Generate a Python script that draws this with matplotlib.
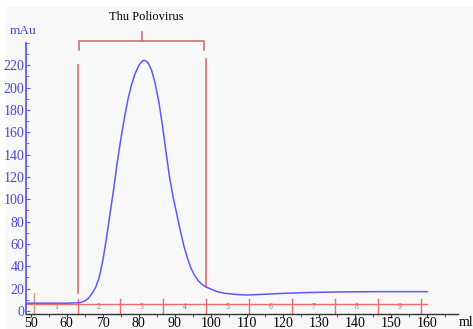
import numpy as np
import matplotlib
matplotlib.use("Agg")
import matplotlib.pyplot as plt
from matplotlib.patches import Rectangle
from matplotlib.ticker import MultipleLocator

plt.rcParams['font.family'] = ['Liberation Serif', 'DejaVu Serif']

# elution profile
volume_ml = [48.7, 55, 60, 63.7, 65, 66, 67, 68, 69, 70, 71, 72, 73, 74, 75, 76, 77, 78,
             79, 80, 81, 81.6, 82.5, 83.5, 84.5, 85.5, 86.5, 87.5, 88.5, 89.5, 90.5,
             91.5, 92.5, 93.5, 94.5, 95.5, 96.5, 97.5, 98.5, 100, 102, 104, 107, 110,
             115, 120, 127, 134, 145, 160]
absorbance = [7, 7, 7, 7.5, 9, 11.4, 15.5, 21, 30, 45, 65, 87, 109, 133, 154, 173, 190,
              203, 213, 220, 224, 224.5, 222.5, 216, 204, 188, 167, 143, 120, 102, 87,
              72, 58, 47, 38, 31.5, 27, 23.8, 21.7, 19.5, 17, 15.8, 14.8, 14.3,
              15, 15.8, 16.5, 17, 17.3, 17.3]

# fraction collector marks
fraction_edges = [51.0, 63.05, 74.8, 86.7, 98.6, 110.6, 122.5, 134.5, 146.4, 158.3]
fraction_labels = ['1', '2', '3', '4', '5', '6', '7', '8', '9']

pool_start, pool_end = 63.05, 98.6
pool_label = 'Thu Poliovirus'

blue = '#5a5aff'
red = '#f06a6a'
bracket_red = '#cc7272'

fig = plt.figure(figsize=(4.73, 3.29), dpi=100)
fig.patches.append(Rectangle((6 / 473, 0), 1, 1 - 7 / 329, transform=fig.transFigure,
                             facecolor='#f8f8f8', edgecolor='none', zorder=-10))
ax = fig.add_axes([26 / 473, 1 - 314 / 329, 432 / 473, 271 / 329])
ax.set_facecolor('none')
ax.set_xlim(48.7, 168.5)
ax.set_ylim(-2.7, 240)

ax.plot(volume_ml, absorbance, color=blue, lw=1.1, zorder=3)

# fraction baseline, ticks and numbers
ax.plot([48.7, 160], [6, 6], color=red, lw=1.0, zorder=2)
for i, x in enumerate(fraction_edges):
    if i == 0:
        ax.plot([x, x], [-2.7, 16], color='#c8a070', lw=1.0, clip_on=False)
    else:
        ax.plot([x, x], [-2.7, 10.7], color=red, lw=1.0, clip_on=False)
for i, lab in enumerate(fraction_labels):
    xm = (fraction_edges[i] + fraction_edges[i + 1]) / 2
    ax.text(xm, 3.3, lab, color='#e84848', fontsize=5.5, ha='center', va='center')

# pooled peak markers
ax.plot([pool_start, pool_start], [16.4, 220], color=red, lw=1.2)
ax.plot([pool_end, pool_end], [21.7, 225.4], color=red, lw=1.2)

# bracket above the pool
bx0, bx1 = pool_start + 0.3, pool_end - 0.5
bmid = 80.8
ax.plot([bx0, bx0, bx1, bx1], [233.5, 241.8, 241.8, 233.5], color=bracket_red, lw=1.2,
        clip_on=False, solid_joinstyle='round')
ax.plot([bmid, bmid], [241.8, 249.6], color=bracket_red, lw=1.2, clip_on=False)
ax.text(82.2, 263, pool_label, ha='center', va='center', fontsize=9, clip_on=False)

for s in ['top', 'right']:
    ax.spines[s].set_visible(False)
ax.spines['left'].set_color(blue)
ax.spines['left'].set_linewidth(1.3)
ax.spines['bottom'].set_color('#333333')
ax.spines['bottom'].set_linewidth(1.0)

ax.set_yticks(np.arange(0, 221, 20))
ax.yaxis.set_minor_locator(MultipleLocator(10))
ax.tick_params(axis='y', which='major', colors=blue, labelcolor='#4848d8', labelsize=10,
               direction='in', length=3, pad=1)
ax.tick_params(axis='y', which='minor', colors=blue, direction='in', length=2)
ax.set_xticks(np.arange(50, 161, 10))
ax.xaxis.set_minor_locator(MultipleLocator(5))
ax.tick_params(axis='x', which='major', colors='#333333', labelcolor='black', labelsize=10,
               direction='out', length=2, pad=0)
ax.tick_params(axis='x', which='minor', colors='#333333', direction='out', length=2)

fig.text(23 / 473, 1 - 31 / 329, 'mAu', color='#4848d8', fontsize=9.5, ha='center', va='center')
fig.text(459 / 473, 1 - 322 / 329, 'ml', color='black', fontsize=10, ha='left', va='center')

fig.savefig('out.png', dpi=100)
